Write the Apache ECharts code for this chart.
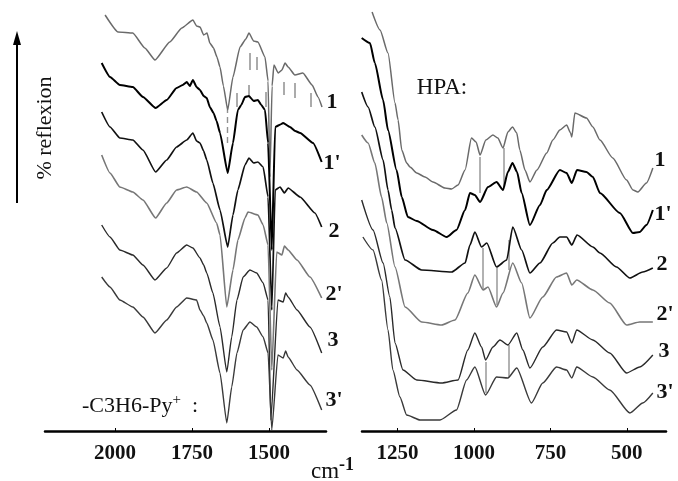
<!DOCTYPE html>
<html><head><meta charset="utf-8">
<script src="https://cdn.jsdelivr.net/npm/echarts@6/dist/echarts.min.js"></script>
<style>html,body{margin:0;padding:0;background:#fff}#c{width:678px;height:481px}</style>
</head><body><div id="c"></div>
<script>
// Tick labels (wavenumber, cm-1)
const leftTicks = [2000, 1750, 1500];
const rightTicks = [1250, 1000, 750, 500];
const curveNames = ['1', "1'", '2', "2'", '3', "3'"];

// Left panel (-C3H6-Py+) spectra: [wavenumber, reflexion (arb. units)]
const L1 = [[2032,416],[1990,399],[1942,398],[1903,383],[1870,371],[1822,389],[1783,403],[1747,411],[1735,405],[1724,404],[1712,396],[1701,398],[1692,388],[1680,383],[1669,374],[1659,364],[1648,345],[1634,321],[1617,354],[1594,384],[1575,392],[1565,398],[1550,390],[1536,389],[1513,374],[1503,350],[1497,254],[1490,345],[1484,366],[1470,358],[1458,361],[1448,368],[1438,364],[1416,356],[1390,358],[1360,346],[1341,334],[1328,324]];
const L1p = [[2043,368],[2016,354],[1984,346],[1942,344],[1909,334],[1868,323],[1832,331],[1800,343],[1780,346],[1767,349],[1757,345],[1747,351],[1735,344],[1724,341],[1712,335],[1702,333],[1692,324],[1680,318],[1670,310],[1659,298],[1634,258],[1617,288],[1601,321],[1590,326],[1578,334],[1565,335],[1550,330],[1536,331],[1525,326],[1513,321],[1503,288],[1491,181],[1480,304],[1466,306],[1454,308],[1432,304],[1415,300],[1399,298],[1357,288],[1329,269]];
const L2 = [[2043,319],[2016,304],[1984,293],[1942,291],[1909,281],[1868,259],[1832,271],[1800,284],[1767,291],[1747,298],[1735,290],[1724,288],[1712,280],[1702,271],[1682,248],[1659,221],[1634,184],[1617,216],[1601,241],[1578,266],[1565,273],[1550,268],[1536,269],[1519,264],[1503,234],[1491,121],[1480,241],[1464,244],[1450,238],[1438,243],[1399,234],[1351,218],[1329,204]];
const L2p = [[2043,276],[2016,258],[1984,244],[1942,239],[1909,231],[1868,213],[1832,228],[1800,241],[1767,244],[1735,239],[1702,228],[1670,208],[1659,196],[1637,124],[1617,161],[1601,191],[1578,213],[1568,219],[1536,216],[1519,206],[1503,186],[1491,61],[1475,179],[1458,176],[1450,185],[1438,181],[1409,171],[1367,154],[1329,133]];
const L3 = [[2043,206],[2016,194],[1984,181],[1942,176],[1909,166],[1870,151],[1832,163],[1800,178],[1767,186],[1747,183],[1724,173],[1712,166],[1702,158],[1682,138],[1659,104],[1637,59],[1621,94],[1604,131],[1584,154],[1562,161],[1540,158],[1519,148],[1503,131],[1494,11],[1471,131],[1454,129],[1446,138],[1438,134],[1409,121],[1367,104],[1329,78]];
const L3p = [[2043,154],[2016,144],[1984,131],[1942,124],[1909,114],[1870,98],[1832,111],[1800,124],[1767,133],[1735,131],[1724,121],[1712,115],[1702,108],[1682,91],[1659,58],[1637,8],[1621,44],[1604,78],[1584,101],[1562,109],[1540,104],[1519,94],[1503,78],[1491,1],[1471,76],[1454,73],[1446,80],[1438,74],[1409,61],[1367,46],[1329,21]];

// Right panel (HPA) spectra
const R1 = [[1333,419],[1307,401],[1281,378],[1258,328],[1248,311],[1236,281],[1220,268],[1209,264],[1187,258],[1160,254],[1134,249],[1095,243],[1073,242],[1052,246],[1029,261],[1008,293],[993,289],[980,276],[961,291],[938,296],[922,293],[905,283],[889,299],[874,304],[860,298],[850,281],[833,261],[817,249],[794,261],[762,278],[742,291],[719,301],[697,306],[684,298],[680,294],[670,318],[632,313],[611,304],[588,291],[546,273],[501,251],[480,241],[464,239],[436,248],[415,263]];
const R1p = [[1367,393],[1340,388],[1324,368],[1297,331],[1281,301],[1253,261],[1236,234],[1216,214],[1187,210],[1134,201],[1089,194],[1057,201],[1029,221],[1013,238],[997,236],[980,229],[954,244],[926,249],[905,241],[889,259],[874,268],[859,259],[844,238],[817,206],[784,226],[762,241],[719,261],[697,258],[680,248],[663,261],[632,259],[611,254],[588,238],[523,218],[480,198],[458,199],[436,206],[415,221]];
const R2 = [[1367,339],[1346,324],[1324,304],[1297,271],[1281,241],[1269,221],[1258,203],[1225,171],[1171,161],[1073,159],[1029,168],[1013,186],[997,199],[975,184],[958,188],[926,164],[893,171],[873,204],[844,181],[817,158],[784,168],[742,188],[719,194],[697,194],[680,186],[663,196],[611,184],[588,178],[534,164],[490,153],[448,159],[415,163]];
const R2p = [[1367,296],[1346,288],[1324,268],[1302,234],[1285,208],[1258,164],[1225,124],[1171,109],[1106,106],[1062,111],[1020,138],[997,156],[970,141],[954,144],[926,124],[905,138],[873,168],[844,148],[817,113],[775,134],[730,154],[697,158],[680,146],[664,151],[611,141],[556,128],[501,106],[458,109],[415,109]];
const R3 = [[1367,231],[1330,201],[1297,168],[1275,134],[1258,88],[1232,61],[1187,51],[1106,48],[1052,51],[1020,81],[997,98],[975,84],[962,71],[938,84],[915,91],[889,86],[860,98],[840,81],[817,63],[775,84],[730,101],[697,99],[680,88],[664,101],[611,91],[556,78],[501,58],[458,64],[415,76]];
const R3p = [[1363,194],[1330,181],[1302,151],[1281,101],[1265,61],[1242,34],[1220,16],[1176,11],[1111,11],[1057,21],[1024,51],[997,64],[962,36],[926,54],[889,53],[860,63],[812,28],[775,48],[730,64],[697,61],[680,53],[664,64],[611,54],[556,41],[490,18],[448,28],[415,38]];

// Band marker segments: [wavenumber, from, to]
const leftMarks = [[1604,338,324],[1565,346,334],[1562,378,361],[1539,374,361],[1510,339,324],[1451,349,336],[1416,348,333],[1364,338,324]];
const leftDashed = [[1634,324,284]];
const rightMarks = [[980,274,238],[902,283,244],[972,183,141],[926,163,126],[885,191,161],[962,69,38],[885,86,54]];

const leftSeries = [L1, L1p, L2, L2p, L3, L3p];
const rightSeries = [R1, R1p, R2, R2p, R3, R3p];
const colors = ['#6a6a6a', '#000', '#111', '#777', '#2a2a2a', '#3a3a3a'];
const widths = [1.5, 2.0, 1.7, 1.6, 1.4, 1.4];

const chart = echarts.init(document.getElementById('c'), null, {renderer: 'canvas'});
const serif = 'Liberation Serif';

function xAxisDef(grid, min, max, ticks) {
  return {
    gridIndex: grid, type: 'value', min: min, max: max, inverse: true,
    axisLine: {show: true, onZero: false, lineStyle: {color: '#000', width: 2.5}},
    axisTick: {show: true, inside: true, length: 3, customValues: ticks, lineStyle: {color: '#000', width: 1}},
    axisLabel: {customValues: ticks, formatter: v => String(v), fontSize: 21, fontWeight: 'bold', fontFamily: serif, color: '#111', margin: 12},
    splitLine: {show: false}
  };
}

const series = [];
leftSeries.forEach((d, i) => series.push({
  type: 'line', xAxisIndex: 0, yAxisIndex: 0, data: d, showSymbol: false, smooth: 0.15, smoothMonotone: 'x',
  lineStyle: {color: colors[i], width: widths[i]}, silent: true, name: 'L' + curveNames[i]
}));
rightSeries.forEach((d, i) => series.push({
  type: 'line', xAxisIndex: 1, yAxisIndex: 1, data: d, showSymbol: false, smooth: 0.2, smoothMonotone: 'x',
  lineStyle: {color: colors[i], width: widths[i]}, silent: true, name: 'R' + curveNames[i]
}));
series.push({type: 'lines', coordinateSystem: 'cartesian2d', xAxisIndex: 0, yAxisIndex: 0,
  data: leftMarks.map(m => ({coords: [[m[0], m[1]], [m[0], m[2]]]})), lineStyle: {color: '#222', width: 1.5}, silent: true});
series.push({type: 'lines', coordinateSystem: 'cartesian2d', xAxisIndex: 0, yAxisIndex: 0,
  data: leftDashed.map(m => ({coords: [[m[0], m[1]], [m[0], m[2]]]})), lineStyle: {color: '#222', width: 1.4, type: [6, 4]}, silent: true});
series.push({type: 'lines', coordinateSystem: 'cartesian2d', xAxisIndex: 1, yAxisIndex: 1,
  data: rightMarks.map(m => ({coords: [[m[0], m[1]], [m[0], m[2]]]})), lineStyle: {color: '#333', width: 1.5}, silent: true});

const leftLabelPos = [[332,102],[332,163],[334,231],[334,294],[333,340],[334,400]];
const rightLabelPos = [[660,160],[663,214],[662,264],[665,314],[664,351],[665,392]];
const graphics = [];
curveNames.forEach((n, i) => {
  graphics.push({type: 'text', x: leftLabelPos[i][0], y: leftLabelPos[i][1], style: {text: n, font: 'bold 22px "Liberation Serif"', fill: '#111', textAlign: 'center', textVerticalAlign: 'middle'}});
  graphics.push({type: 'text', x: rightLabelPos[i][0], y: rightLabelPos[i][1], style: {text: n, font: 'bold 22px "Liberation Serif"', fill: '#111', textAlign: 'center', textVerticalAlign: 'middle'}});
});
graphics.push({type: 'line', shape: {x1: 17, y1: 203, x2: 17, y2: 40}, style: {stroke: '#000', lineWidth: 2}});
graphics.push({type: 'polygon', shape: {points: [[17, 31], [13, 45], [21, 45]]}, style: {fill: '#000'}});
graphics.push({type: 'text', x: 45, y: 128, rotation: Math.PI / 2, style: {text: '% reflexion', font: '22px "Liberation Serif"', fill: '#111', textAlign: 'center', textVerticalAlign: 'middle'}});
graphics.push({type: 'text', x: 442, y: 88, style: {text: 'HPA:', font: '23px "Liberation Serif"', fill: '#111', textAlign: 'center', textVerticalAlign: 'middle'}});
graphics.push({type: 'text', x: 82, y: 405, style: {
  text: '{a|-C3H6-Py}{s|+}{a|  :}',
  rich: {a: {font: '22px "Liberation Serif"', fill: '#111', verticalAlign: 'bottom'}, s: {font: '15px "Liberation Serif"', fill: '#111', verticalAlign: 'top', padding: [0, 0, 10, 0]}},
  textVerticalAlign: 'middle'}});
graphics.push({type: 'text', x: 311, y: 472, style: {text: 'cm', font: '23px "Liberation Serif"', fill: '#111', textVerticalAlign: 'middle'}});
graphics.push({type: 'text', x: 339, y: 465, style: {text: '-1', font: 'bold 18px "Liberation Serif"', fill: '#111', textVerticalAlign: 'middle'}});

chart.setOption({
  animation: false,
  backgroundColor: '#fff',
  grid: [
    {left: 45, right: 352, top: 0, bottom: 50},
    {left: 362, right: 12, top: 0, bottom: 50}
  ],
  xAxis: [xAxisDef(0, 1315, 2227, leftTicks), xAxisDef(1, 372, 1366, rightTicks)],
  yAxis: [
    {gridIndex: 0, type: 'value', min: 0, max: 431, show: false},
    {gridIndex: 1, type: 'value', min: 0, max: 431, show: false}
  ],
  series: series,
  graphic: graphics
});
</script></body></html>
